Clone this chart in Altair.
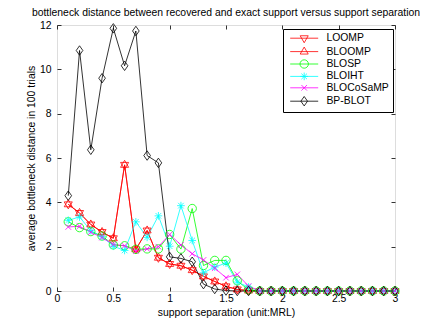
import altair as alt
import pandas as pd

# ---------------- data ----------------
sep = [0.1, 0.2, 0.3, 0.4, 0.5, 0.6, 0.7, 0.8, 0.9, 1.0,
       1.1, 1.2, 1.3, 1.4, 1.5, 1.6, 1.7, 1.8, 1.9, 2.0,
       2.1, 2.2, 2.3, 2.4, 2.5, 2.6, 2.7, 2.8, 2.9, 3.0]

methods = ["LOOMP", "BLOOMP", "BLOSP", "BLOIHT", "BLOCoSaMP", "BP-BLOT"]
colors = ["#ff0000", "#ff0000", "#00ff00", "#00ffff", "#ff00ff", "#000000"]

loomp = [3.91, 3.52, 3.00, 2.66, 2.38, 5.69, 1.88, 2.73, 1.50, 1.22,
         1.14, 0.94, 0.66, 0.43, 0.21, 0.07, 0.02, 0, 0, 0,
         0, 0, 0, 0, 0, 0, 0, 0, 0, 0]
bloomp = [3.91, 3.52, 3.00, 2.66, 2.38, 5.69, 1.88, 2.73, 1.50, 1.22,
          1.14, 0.94, 0.66, 0.43, 0.21, 0.07, 0.02, 0, 0, 0,
          0, 0, 0, 0, 0, 0, 0, 0, 0, 0]
blosp = [3.12, 2.86, 2.68, 2.48, 2.08, 2.04, 1.88, 1.90, 1.90, 2.55,
         1.89, 3.72, 1.15, 1.38, 1.38, 0.46, 0.05, 0, 0, 0,
         0, 0, 0, 0, 0, 0, 0, 0, 0, 0]
bloiht = [3.19, 3.34, 2.72, 2.45, 2.02, 1.83, 3.12, 2.42, 3.39, 2.02,
          3.85, 2.28, 0.82, 1.08, 1.26, 0.40, 0.18, 0, 0, 0,
          0, 0, 0, 0, 0, 0, 0, 0, 0, 0]
blocosamp = [2.89, 2.92, 2.65, 2.41, 2.10, 2.04, 1.80, 1.90, 2.00, 2.55,
             2.08, 1.68, 1.40, 1.03, 0.60, 0.75, 0.22, 0, 0, 0,
             0, 0, 0, 0, 0, 0, 0, 0, 0, 0]
bpblot = [4.30, 10.85, 6.37, 9.60, 11.85, 10.16, 11.73, 6.11, 5.78, 1.54,
          1.47, 1.32, 0.31, 0.09, 0.02, 0, 0, 0, 0, 0,
          0, 0, 0, 0, 0, 0, 0, 0, 0, 0]

x_ticks = [0, 0.5, 1, 1.5, 2, 2.5, 3]
y_ticks = [0, 2, 4, 6, 8, 10, 12]

series = [loomp, bloomp, blosp, bloiht, blocosamp, bpblot]
rows = []
for m, vals in zip(methods, series):
    for s, v in zip(sep, vals):
        rows.append({"method": m, "sep": s, "val": v})
df = pd.DataFrame(rows)
df["order"] = df["method"].map({m: i for i, m in enumerate(methods)})

# ---------------- styling ----------------
FONT = "Liberation Sans"
FS = 10.4

tri_down = "M0,1.3L-1.15,-0.7L1.15,-0.7Z"
tri_up = "M0,-1.3L-1.15,0.7L1.15,0.7Z"
circ = "M1.2,0A1.2,1.2,0,1,1,-1.2,0A1.2,1.2,0,1,1,1.2,0Z"
aster = "M-1.1,0L1.1,0M0,-1.1L0,1.1M-0.8,-0.8L0.8,0.8M-0.8,0.8L0.8,-0.8"
xmark = "M-0.8,-0.8L0.8,0.8M-0.8,0.8L0.8,-0.8"
diam = "M0,-1.35L0.95,0L0,1.35L-0.95,0Z"
marker_paths = [tri_down, tri_up, circ, aster, xmark, diam]
legend_paths = ["M-4,0L4,0" + p for p in marker_paths]

xs = alt.Scale(domain=[0, 3], nice=False, zero=False)
ys = alt.Scale(domain=[0, 12], nice=False, zero=False)

common = dict(domain=False, grid=False, tickSize=4, tickColor="black",
              tickWidth=0.8, offset=-4, labelFont=FONT, labelFontSize=FS,
              labelColor="black", titleFont=FONT, titleFontSize=FS,
              titleColor="black", titleFontWeight="normal", labelOverlap=False)

x_bottom = alt.Axis(orient="bottom", values=x_ticks, format=".1~f",
                    labelPadding=2.5, title="support separation (unit:MRL)",
                    titlePadding=4, labelFlush=False, **common)
y_left = alt.Axis(orient="left", values=y_ticks, labelPadding=6,
                  title="average bottleneck distance in 100 trials",
                  titlePadding=3, labelFlush=False, **common)
x_top = alt.Axis(orient="top", values=x_ticks, labels=False, title=None, **common)
y_right = alt.Axis(orient="right", values=y_ticks, labels=False, title=None, **common)

color_nolegend = alt.Color("method:N", scale=alt.Scale(domain=methods, range=colors), legend=None)

lines = alt.Chart(df).mark_line(strokeWidth=0.8).encode(
    x=alt.X("sep:Q", scale=xs, axis=x_bottom),
    y=alt.Y("val:Q", scale=ys, axis=y_left),
    color=color_nolegend,
    detail="method:N",
    order="sep:Q",
)

points = alt.Chart(df).mark_point(filled=False, size=49, strokeWidth=0.8, opacity=1).encode(
    x=alt.X("sep:Q", scale=xs, axis=x_top),
    y=alt.Y("val:Q", scale=ys, axis=y_right),
    color=color_nolegend,
    shape=alt.Shape("method:N", scale=alt.Scale(domain=methods, range=marker_paths), legend=None),
    order="order:Q",
)

leg = alt.Legend(orient="none", legendX=226, legendY=4, title=None, padding=4,
                 fillColor="white", strokeColor="black", cornerRadius=0,
                 labelFont=FONT, labelFontSize=FS, labelColor="black",
                 symbolSize=49, symbolStrokeWidth=0.8, symbolOffset=12,
                 labelOffset=17, rowPadding=0.4)

legend_df = pd.DataFrame({"method": methods})
legend_layer = alt.Chart(legend_df).mark_point(filled=False, size=49, strokeWidth=0.8, opacity=1).encode(
    color=alt.Color("method:N", scale=alt.Scale(domain=methods, range=colors), legend=leg),
    shape=alt.Shape("method:N", scale=alt.Scale(domain=methods, range=legend_paths), legend=leg),
).transform_filter("false")

chart = alt.layer(lines, points, legend_layer).resolve_scale(
    color="independent", shape="independent"
).resolve_axis(x="independent", y="independent").properties(
    width=338, height=266,
    autosize=alt.AutoSizeParams(type="none"),
    padding={"left": 49, "top": 17, "right": 30, "bottom": 32},
    title=alt.TitleParams(
        "bottleneck distance between recovered and exact support versus support separation",
        font=FONT, fontSize=FS, fontWeight="normal", color="black",
        anchor="middle", baseline="alphabetic", offset=10, dy=16),
).configure_view(stroke="black", strokeWidth=0.8).configure(background="white")

chart.save("out.html", embed_options={"renderer": "svg", "actions": False})
